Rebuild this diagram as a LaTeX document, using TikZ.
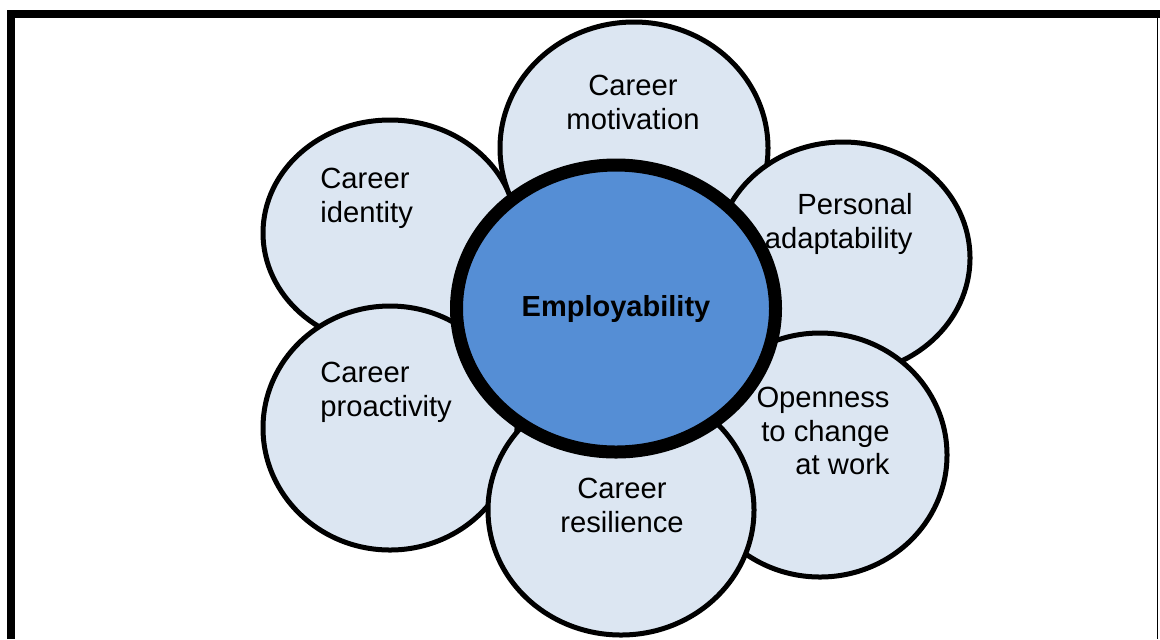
\documentclass[tikz,border=0pt]{standalone}
\usepackage{fontspec}
\setmainfont{Liberation Sans}
\usetikzlibrary{shapes.geometric}
\usepackage{xcolor}
\definecolor{petalfill}{HTML}{DCE6F2}
\definecolor{corefill}{HTML}{558ED5}

\begin{document}
\begin{tikzpicture}[x=0.5pt,y=-0.5pt,
  petal/.style={ellipse, draw=black, line width=2.5pt, fill=petalfill, inner sep=0},
  lbl/.style={inner sep=0, font=\fontsize{14.6pt}{16.75pt}\selectfont}]
\useasboundingbox (0,0) rectangle (1160,639);
% frame
\draw[line width=4pt] (11,639)--(11,14)--(1160,14);
\draw[line width=0.8pt] (1157.5,14)--(1157.5,639);
% petals, back to front
\node[petal, minimum width=127pt, minimum height=113pt] (identity) at (390,233) {};
\node[petal, minimum width=134pt, minimum height=126pt] (motivation) at (634,148) {};
\node[petal, minimum width=127pt, minimum height=116pt] (adapt) at (843,258) {};
\node[petal, minimum width=127pt, minimum height=122pt] (openness) at (820,455) {};
\node[petal, minimum width=127pt, minimum height=122pt] (proactivity) at (390,428) {};
\node[petal, minimum width=133pt, minimum height=125pt] (resilience) at (621,510) {};
% centre
\node[ellipse, draw=black, line width=6.5pt, fill=corefill, inner sep=0,
  minimum width=159.5pt, minimum height=143.5pt,
  font=\bfseries\fontsize{14.5pt}{17pt}\selectfont] (employ) at (616,308.5) {Employability};
% labels
\node[lbl, anchor=north, align=center] (motivationtxt) at (633,75) {Career\\motivation};
\node[lbl, anchor=north west, align=left] (identitytxt) at (320,168) {Career\\identity};
\node[lbl, anchor=north east, align=right] (adapttxt) at (913,193) {Personal\\adaptability};
\node[lbl, anchor=north west, align=left] (proactivitytxt) at (320,362) {Career\\proactivity};
\node[lbl, anchor=north, align=center] (resiliencetxt) at (622,478) {Career\\resilience};
\node[lbl, anchor=north east, align=right] (opennesstxt) at (890,387) {Openness\\to change\\at work};
\end{tikzpicture}
\end{document}
